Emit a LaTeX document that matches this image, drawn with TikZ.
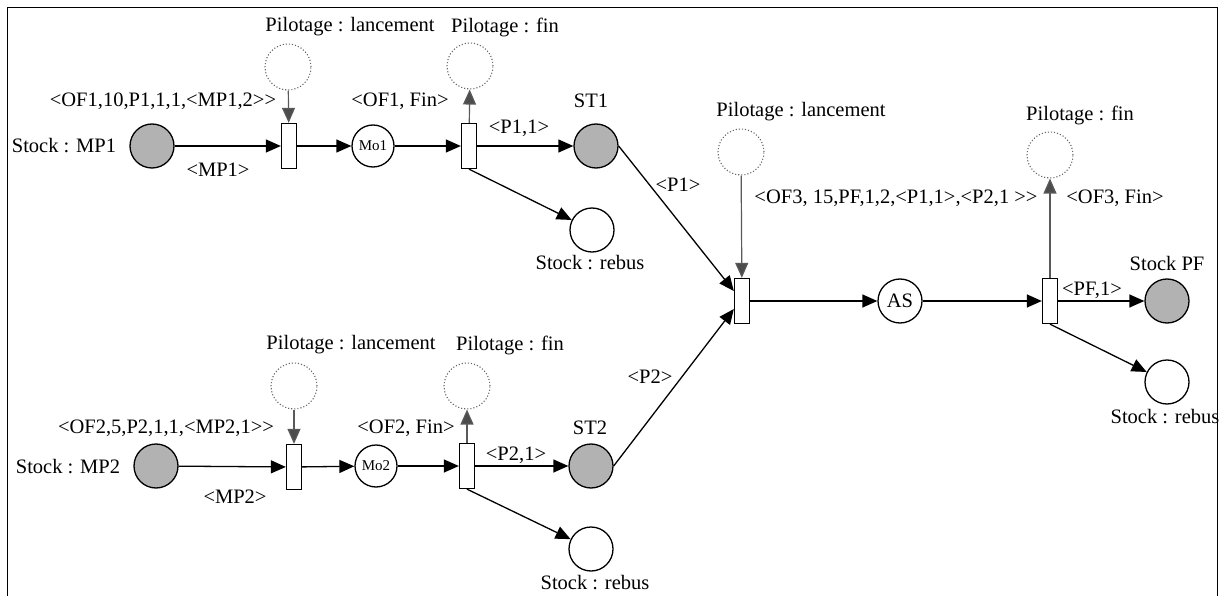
\documentclass[tikz,border=0pt]{standalone}
\usepackage{fontspec}
\setmainfont{Liberation Serif}
\usetikzlibrary{arrows.meta,calc}
\tikzset{
  place/.style={circle, draw, line width=1.3pt, minimum size=44pt, inner sep=0pt},
  gplace/.style={place, fill=black!30},
  mplace/.style={place, minimum size=42pt},
  ctrl/.style={circle, draw=black!60, dotted, line width=1.1pt, minimum size=46pt, inner sep=0pt},
  trans/.style={rectangle, draw, line width=1.3pt, minimum width=15pt, minimum height=45pt, inner sep=0pt, fill=white},
  arc/.style={line width=1.3pt, -{Triangle[length=15pt,width=13pt]}},
  garc/.style={line width=1.2pt, draw=black!65, -{Triangle[length=15pt,width=13pt,fill=black!70]}},
  lbl/.style={font=\fontsize{20.5}{24}\selectfont, inner sep=0pt},
  slbl/.style={font=\fontsize{15}{18}\selectfont, inner sep=0pt}
}
\begin{document}
\begin{tikzpicture}[x=1pt,y=-1pt]
\useasboundingbox (0,0) rectangle (1221,596);
\draw[line width=1pt] (7,597) -- (7,8) -- (1217,8) -- (1217,597);

% ---------- top row ----------
\node[gplace] (mp1) at (152,146) {};
\node[lbl] (lmp1) at (64,146) {Stock : MP1};
\node[trans] (t1) at (289,146) {};
\node[ctrl] (c1) at (288,67) {};
\node[lbl] (lc1) at (350,27) {Pilotage : lancement};
\node[lbl] (lof1) at (163,101) {<OF1,10,P1,1,1,<MP1,2>\kern0pt>};
\node[lbl] (lmp1a) at (218,170) {<MP1>};
\node[mplace, slbl] (mo1) at (373,146) {Mo1};
\node[trans] (t2) at (469,146) {};
\node[ctrl] (f1) at (470,66) {};
\node[lbl] (lf1) at (505,27) {Pilotage : fin};
\node[lbl] (lof1f) at (400,101) {<OF1, Fin>};
\node[lbl] (lp11) at (519,128) {<P1,1>};
\node[gplace] (st1) at (596,146) {};
\node[lbl] (lst1) at (591,101) {ST1};
\node[place] (r1) at (592,230) {};
\node[lbl] (lr1) at (590,263) {Stock : rebus};

\draw[arc] (mp1) -- (t1);
\draw[arc] (t1) -- (mo1);
\draw[arc] (mo1) -- (t2);
\draw[arc] (t2) -- (st1);
\draw[arc] (t2.south) -- (r1);
\draw[garc] (c1) -- (t1);
\draw[garc] (t2) -- (f1);

% ---------- bottom row ----------
\node[gplace] (mp2) at (156,466) {};
\node[lbl] (lmp2) at (68,467) {Stock : MP2};
\node[trans] (t5) at (294,467) {};
\node[ctrl] (c2) at (294,386) {};
\node[lbl] (lc2) at (351,345) {Pilotage : lancement};
\node[lbl] (lof2) at (166,428) {<OF2,5,P2,1,1,<MP2,1>\kern0pt>};
\node[lbl] (lmp2a) at (235,497) {<MP2>};
\node[mplace, slbl] (mo2) at (376,466) {Mo2};
\node[trans] (t6) at (467,466) {};
\node[ctrl] (f2) at (467,386) {};
\node[lbl] (lf2) at (510,345) {Pilotage : fin};
\node[lbl] (lof2f) at (406,428) {<OF2, Fin>};
\node[lbl] (lp21) at (516,455) {<P2,1>};
\node[gplace] (st2) at (591,466) {};
\node[lbl] (lst2) at (590,428) {ST2};
\node[place] (r2) at (591,549) {};
\node[lbl] (lr2) at (595,583) {Stock : rebus};

\draw[arc] (mp2) -- (t5);
\draw[arc] (t5) -- (mo2);
\draw[arc] (mo2) -- (t6);
\draw[arc] (t6) -- (st2);
\draw[arc] (t6.south) -- (r2);
\draw[garc] (c2) -- (t5);
\draw[garc] (t6) -- (f2);

% ---------- assembly ----------
\node[trans] (t3) at (742,301) {};
\node[ctrl] (c3) at (741,152) {};
\node[lbl] (lc3) at (801,112) {Pilotage : lancement};
\node[lbl] (lp1) at (678,185) {<P1>};
\node[lbl] (lp2) at (650,377) {<P2>};
\node[lbl] (lof3) at (896,198) {<OF3, 15,PF,1,2,<P1,1>,<P2,1 >\kern0pt>};
\node[place, lbl] (as) at (900,301) {AS};
\node[trans] (t4) at (1050,301) {};
\node[ctrl] (f3) at (1050,155) {};
\node[lbl] (lf3) at (1080,115) {Pilotage : fin};
\node[lbl] (lof3f) at (1115,198) {<OF3, Fin>};
\node[lbl] (lpf) at (1092,290) {<PF,1>};
\node[gplace] (spf) at (1167,301) {};
\node[lbl] (lspf) at (1167,263) {Stock PF};
\node[place] (r3) at (1167,382) {};
\node[lbl] (lr3) at (1165,417) {Stock : rebus};

\coordinate (in1) at ($(t3.west)+(0,-10)$);
\coordinate (in2) at ($(t3.west)+(0,8)$);
\draw[arc] (st1.east) -- (in1);
\draw[arc] (st2.east) -- (in2);
\draw[arc] (t3) -- (as);
\draw[arc] (as) -- (t4);
\draw[arc] (t4) -- (spf);
\draw[arc] (t4.south) -- (r3);
\draw[garc] (c3) -- (t3);
\draw[garc] (t4) -- (f3);
\end{tikzpicture}
\end{document}
